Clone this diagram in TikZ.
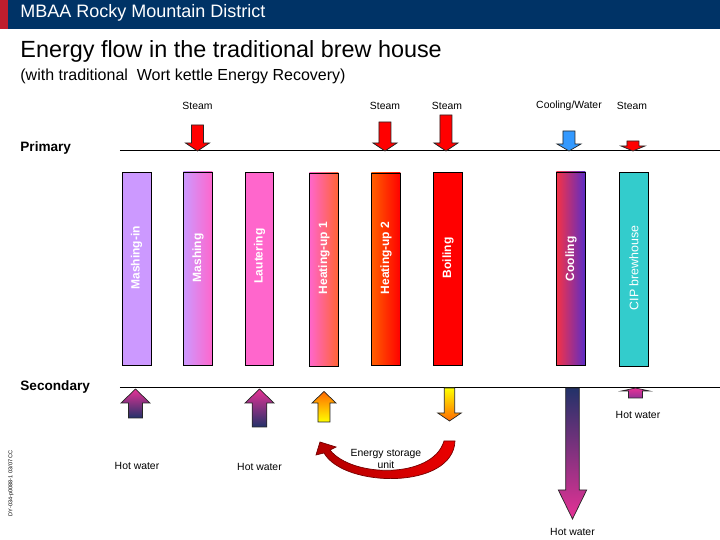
\documentclass[tikz,border=0pt]{standalone}
\usepackage{fontspec}
\setmainfont{Liberation Sans}

\definecolor{navy}{RGB}{0,51,102}
\definecolor{hdrred}{RGB}{190,30,45}
\definecolor{lilac}{RGB}{204,153,255}
\definecolor{rosa}{RGB}{255,102,204}
\definecolor{coral}{RGB}{255,100,50}
\definecolor{flame}{RGB}{255,95,0}
\definecolor{coolred}{RGB}{245,50,70}
\definecolor{coolblue}{RGB}{90,45,200}
\definecolor{cipteal}{RGB}{51,204,204}
\definecolor{skyblue}{RGB}{51,153,255}
\definecolor{hotpink}{RGB}{230,50,150}
\definecolor{darknavy}{RGB}{35,50,105}
\definecolor{amber}{RGB}{255,105,0}
\definecolor{lemon}{RGB}{255,255,0}
\definecolor{plum}{RGB}{150,50,150}

% block arrow: x, shaft end, head base, tip, shaft half width, head half width
\newcommand{\blockarrow}[6]{({#1-#5},#2) -- ({#1+#5},#2) -- ({#1+#5},#3) -- ({#1+#6},#3) -- (#1,#4) -- ({#1-#6},#3) -- ({#1-#5},#3) -- cycle}

\tikzset{
  bar/.style={draw=black, line width=0.4pt},
  bartext/.style={rotate=90, text=white, font=\fontsize{6}{7}\selectfont\bfseries},
  flow/.style={draw=black!85, line width=0.35pt},
  lbl/.style={font=\fontsize{5.2}{6.2}\selectfont},
  stage/.style={font=\fontsize{6.8}{8}\selectfont\bfseries, anchor=west, inner sep=0pt}
}

\begin{document}
\begin{tikzpicture}[x=0.5pt,y=-0.5pt]
        \useasboundingbox (0,0) rectangle (720,540);

        % === HEADER ===
        \fill[navy] (0,0) rectangle (720,29);
        \fill[hdrred] (0,0) rectangle (8,29);
        \node (district) [anchor=base west, inner sep=0pt, text=white, font=\fontsize{9}{10}\selectfont] at (20,18) {MBAA Rocky Mountain District};
        \node (title) [anchor=base west, inner sep=0pt, font=\fontsize{11.7}{13}\selectfont] at (20,58) {Energy flow in the traditional brew house};
        \node (subtitle) [anchor=base west, inner sep=0pt, font=\fontsize{8}{9}\selectfont] at (20,81) {(with traditional\ \ Wort kettle Energy Recovery)};

        % === PRIMARY ===
        \node (primary) [stage] at (20,148) {Primary};
        \draw[line width=0.5pt] (120,151) -- (720,151);
        \node (steam1) [lbl] at (197.5,106) {Steam};
        \node (steam2) [lbl] at (385,106) {Steam};
        \node (steam3) [lbl] at (447,106) {Steam};
        \node (coolw) [lbl] at (569,106) {Cooling/Water};
        \node (steam4) [lbl] at (632,106) {Steam};
        \draw[flow, fill=red] \blockarrow{197.5}{125}{143}{151}{6}{12};
        \draw[flow, fill=red] \blockarrow{385}{122}{143}{151}{6}{12};
        \draw[flow, fill=red] \blockarrow{446}{115}{143}{151}{6}{12};
        \draw[flow, fill=skyblue] \blockarrow{569}{131}{144}{151}{6}{12};
        \draw[flow, fill=red] \blockarrow{633}{141}{146}{151}{6}{12};

        % === PROCESS BARS ===
        \draw[bar, fill=lilac] (122,172) rectangle (151,365);
        \draw[bar, left color=lilac, right color=rosa] (183.5,172) rectangle (212.5,365);
        \draw[bar, fill=rosa] (245.5,172) rectangle (273.5,365);
        \draw[bar, left color=rosa, right color=coral] (309.5,173) rectangle (338.5,366);
        \draw[bar, left color=flame, right color=red] (371.5,173) rectangle (400.5,365);
        \draw[bar, fill=red] (433,172) rectangle (462.5,365);
        \draw[bar, left color=coolred, right color=coolblue] (556.5,172) rectangle (585.5,365);
        \draw[bar, fill=cipteal] (619,172) rectangle (648.5,366);
        \node (tmashin) [bartext] at (136.5,258) {Mashing-in};
        \node (tmash) [bartext] at (198,258) {Mashing};
        \node (tlauter) [bartext] at (259.5,256) {Lautering};
        \node (theat1) [bartext] at (324,258) {Heating-up 1};
        \node (theat2) [bartext] at (386,258) {Heating-up 2};
        \node (tboil) [bartext] at (448,258) {Boiling};
        \node (tcool) [bartext] at (571,259) {Cooling};
        \node (tcip) [bartext, font=\fontsize{6.2}{7}\selectfont] at (634,268) {CIP brewhouse};

        % === SECONDARY ===
        \node (secondary) [stage] at (20,387) {Secondary};
        \draw[line width=0.5pt] (120,388) -- (720,388);
        \draw[flow, top color=hotpink, bottom color=darknavy] \blockarrow{135.5}{418}{403}{389}{7}{14.5};
        \draw[flow, top color=hotpink, bottom color=darknavy] \blockarrow{259.5}{427}{403}{389}{7.3}{14.5};
        \draw[flow, top color=amber, bottom color=lemon] \blockarrow{324}{422}{403}{391.5}{6}{12};
        \draw[flow, top color=lemon, bottom color=amber] \blockarrow{449.5}{388}{413}{421}{5.2}{11.8};
        \draw[flow, top color=darknavy, bottom color=hotpink] \blockarrow{572.5}{388}{490}{519}{6.8}{14.2};
        \draw[flow, top color=hotpink, bottom color=plum] \blockarrow{635.5}{398}{391}{388}{7}{14};

        % === ENERGY STORAGE ===
        \draw[draw=red!45!black, line width=0.35pt, left color=red!70!black, right color=red!92!black]
            (320,442) -- (336,447) -- (330,450) .. controls (352,478) and (433,479) .. (444,441)
            -- (455,441) .. controls (453,490) and (344,488) .. (324,453) -- (316,455) -- cycle;
        \node (storage) [lbl, align=center] at (386,459) {Energy storage\\unit};

        % === HOT WATER ===
        \node (hw1) [lbl] at (137,466) {Hot water};
        \node (hw2) [lbl] at (259.5,467) {Hot water};
        \node (hw3) [lbl] at (638,415) {Hot water};
        \node (hw4) [lbl] at (572.5,532) {Hot water};

        % === CODE ===
        \node (code) [rotate=90, font=\fontsize{2.8}{3}\selectfont] at (11,483) {DY-034-p0088-1 03/07 CC};

    \end{tikzpicture}
\end{document}
